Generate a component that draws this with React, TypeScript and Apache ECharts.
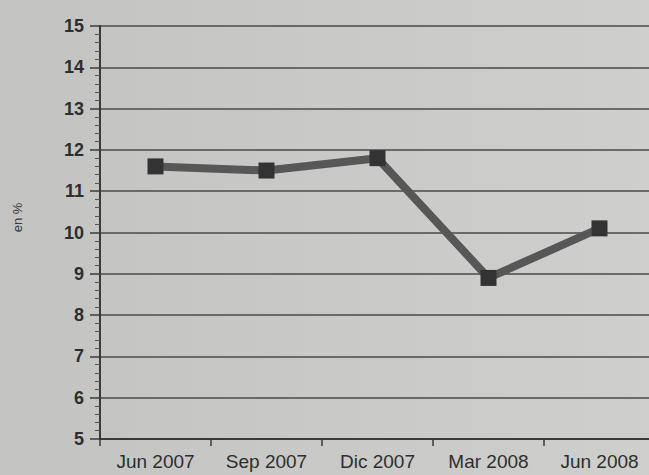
import React, { useEffect, useRef } from "react";
import * as echarts from "echarts";

const categories = ["Jun 2007", "Sep 2007", "Dic 2007", "Mar 2008", "Jun 2008"];
const values = [11.6, 11.5, 11.8, 8.9, 10.1];
const yMin = 5;
const yMax = 15;
const yInterval = 1;
const yName = "en %";

export default function App() {
  const ref = useRef<HTMLDivElement>(null);
  useEffect(() => {
    if (!ref.current) return;
    const chart = echarts.init(ref.current, undefined, { renderer: "svg" });
    chart.setOption({
      animation: false,
      backgroundColor: {
        type: "linear",
        x: 0,
        y: 0,
        x2: 1,
        y2: 0,
        colorStops: [
          { offset: 0, color: "#c3c3c1" },
          { offset: 1, color: "#cfcfcd" },
        ],
      },
      grid: { left: 100, top: 26, right: 15, bottom: 36 },
      xAxis: {
        type: "category",
        data: categories,
        boundaryGap: true,
        axisLine: { lineStyle: { color: "#3a3a3a", width: 2 } },
        axisTick: { show: true, interval: 0, length: 7, lineStyle: { color: "#3a3a3a", width: 1.5 } },
        axisLabel: {
          interval: 0,
          hideOverlap: false,
          color: "#2e2e2e",
          fontFamily: "Liberation Sans",
          fontSize: 19,
          margin: 13,
        },
        splitLine: { show: false },
      },
      yAxis: {
        type: "value",
        min: yMin,
        max: yMax,
        interval: yInterval,
        name: yName,
        nameLocation: "middle",
        nameGap: 76,
        nameRotate: 90,
        nameTextStyle: {
          color: "#3a3a3a",
          fontFamily: "Liberation Sans",
          fontSize: 13,
          padding: [0, 0, 0, 30],
        },
        axisLine: { show: true, lineStyle: { color: "#3a3a3a", width: 2 } },
        axisTick: { show: true, length: 10, inside: false, lineStyle: { color: "#3a3a3a", width: 1.5 } },
        minorTick: { show: true, splitNumber: 5, length: 5, lineStyle: { color: "#555", width: 1 } },
        axisLabel: {
          color: "#2e2e2e",
          fontFamily: "Liberation Sans",
          fontWeight: "bold",
          fontSize: 18,
          margin: 16,
        },
        splitLine: { show: true, lineStyle: { color: "#4a4a4a", width: 1.5 } },
      },
      series: [
        {
          type: "line",
          data: values,
          symbol: "rect",
          symbolSize: 16,
          lineStyle: { color: "#575757", width: 8 },
          itemStyle: { color: "#333333" },
        },
      ],
    });
    return () => chart.dispose();
  }, []);
  return (
    <div
      ref={ref}
      style={{ position: "fixed", left: 0, top: 0, width: 670, height: 475 }}
    />
  );
}
